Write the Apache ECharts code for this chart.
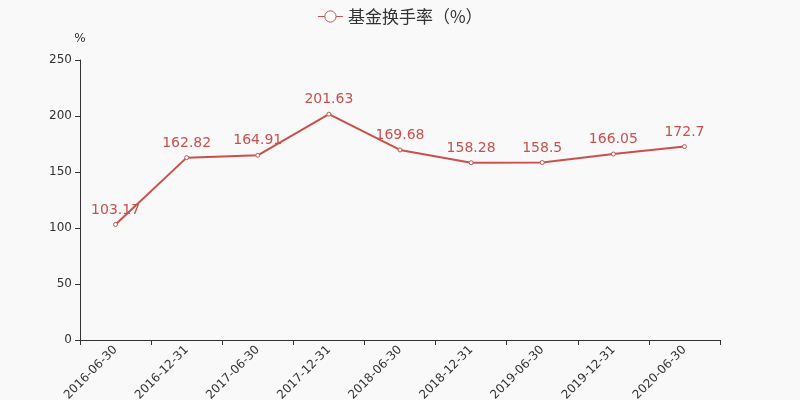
<!DOCTYPE html>
<html>
<head>
<meta charset="utf-8">
<script src="https://cdn.jsdelivr.net/npm/echarts@6/dist/echarts.min.js"></script>
<style>
  html, body { margin: 0; padding: 0; background: #f9f9f9; }
  #main { width: 800px; height: 400px; }
</style>
</head>
<body>
<div id="main"></div>
<script>
var categories = ['2016-06-30', '2016-12-31', '2017-06-30', '2017-12-31', '2018-06-30',
    '2018-12-31', '2019-06-30', '2019-12-31', '2020-06-30'];
var turnover = [103.17, 162.82, 164.91, 201.63, 169.68, 158.28, 158.5, 166.05, 172.7];

var myChart = echarts.init(document.getElementById('main'));
var red = '#c9504d';

var option = {
    backgroundColor: '#f9f9f9',
    textStyle: { fontFamily: 'DejaVu Sans' },
    legend: {
        top: 3,
        left: 'center',
        itemWidth: 25,
        itemHeight: 14,
        itemStyle: { color: '#fff', borderColor: red, borderWidth: 1 },
        lineStyle: { color: red, width: 1 },
        textStyle: { fontSize: 17, color: '#333', fontFamily: 'Noto Sans CJK SC' },
        data: ['基金换手率（%）']
    },
    grid: { left: 80, right: 80, top: 60, bottom: 60, outerBoundsMode: 'none' },
    xAxis: {
        type: 'category',
        data: categories,
        axisLine: { lineStyle: { color: '#333' } },
        axisTick: { show: true, alignWithLabel: false },
        axisLabel: { rotate: 45, fontSize: 12, color: '#333', interval: 0 }
    },
    yAxis: {
        type: 'value',
        name: '%',
        min: 0,
        max: 250,
        interval: 50,
        nameTextStyle: { color: '#333', fontSize: 12 },
        axisLine: { show: true, lineStyle: { color: '#333' } },
        axisTick: { show: true },
        axisLabel: { fontSize: 12, color: '#333' },
        splitLine: { show: false }
    },
    series: [{
        name: '基金换手率（%）',
        type: 'line',
        data: turnover,
        symbol: 'circle',
        symbolSize: 4,
        itemStyle: { color: '#fff', borderColor: red, borderWidth: 1 },
        lineStyle: { color: red, width: 2 },
        label: { show: true, position: 'top', fontSize: 14, color: red, distance: 5 },
        emphasis: { disabled: true }
    }]
};
myChart.setOption(option);
</script>
</body>
</html>
